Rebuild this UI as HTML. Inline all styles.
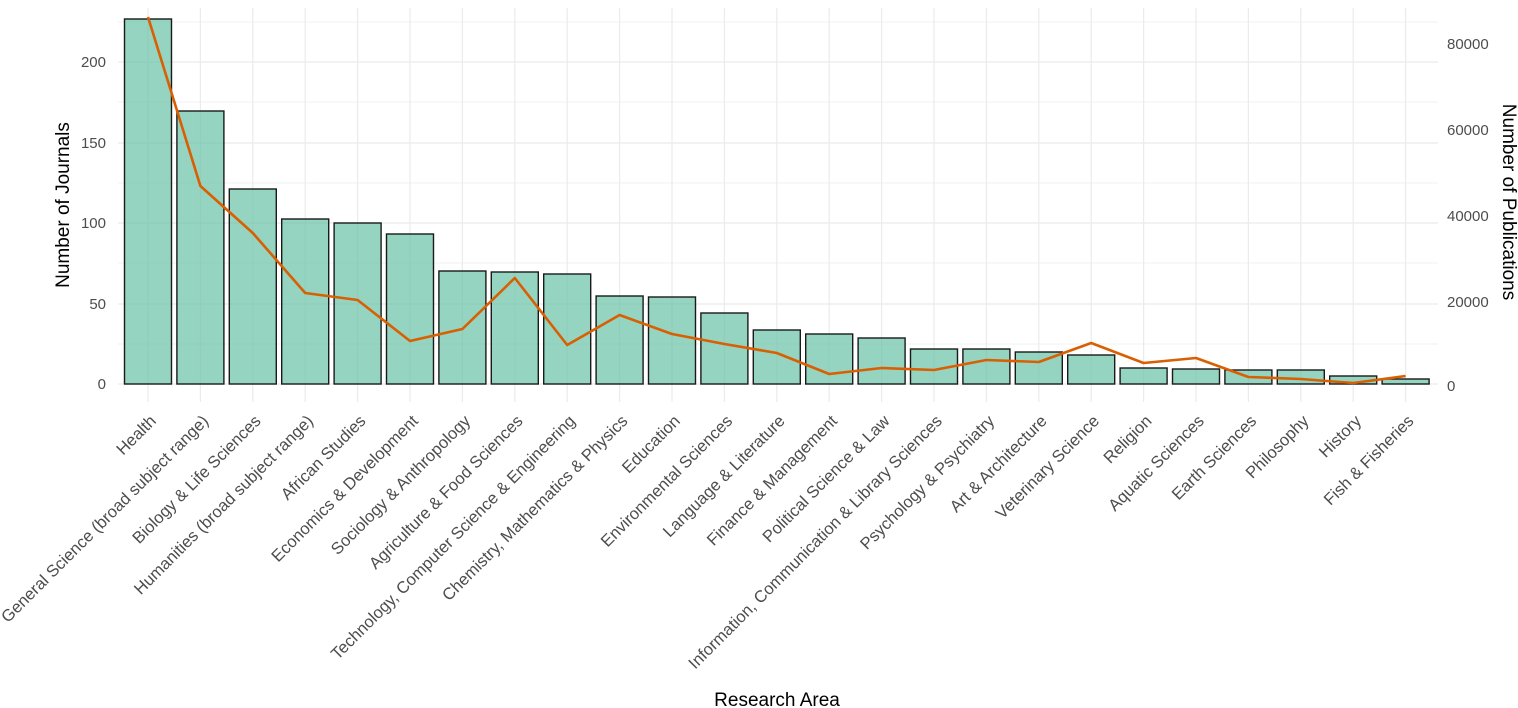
<!DOCTYPE html>
<html><head><meta charset="utf-8"><style>body{margin:0;background:#fff}svg{display:block;font-family:"Liberation Sans",Arial,sans-serif}</style></head><body>
<svg width="1518" height="708" viewBox="0 0 1518 708">
<g id="g"></g>
</svg>
<script>
const names=["Health","General Science (broad subject range)","Biology & Life Sciences","Humanities (broad subject range)","African Studies","Economics & Development","Sociology & Anthropology","Agriculture & Food Sciences","Technology, Computer Science & Engineering","Chemistry, Mathematics & Physics","Education","Environmental Sciences","Language & Literature","Finance & Management","Political Science & Law","Information, Communication & Library Sciences","Psychology & Psychiatry","Art & Architecture","Veterinary Science","Religion","Aquatic Sciences","Earth Sciences","Philosophy","History","Fish & Fisheries"];
const tops=[19,111,189,219,223,234,271,272,274,296,297,313,330,334,338,349,349,352,355,368,369,370,370,376,379];
const ln=[17,186,233,293,300,341,329,278,345,315,334,344,353,374,368,370,360,362,343,363,358,377,379,383,376];
const X0=118,X1=1438,Y0=8,Y1=402,base=384;
const cx=i=>148+i*52.4;
let s="";
[344,263,183,102,22].forEach(y=>s+=`<line x1="${X0}" x2="${X1}" y1="${y}" y2="${y}" stroke="#f2f2f2" stroke-width="1"/>`);
[384,304,223,143,62].forEach(y=>s+=`<line x1="${X0}" x2="${X1}" y1="${y}" y2="${y}" stroke="#ebebeb" stroke-width="1.2"/>`);
names.forEach((n,i)=>s+=`<line x1="${cx(i)}" x2="${cx(i)}" y1="${Y0}" y2="${Y1}" stroke="#ebebeb" stroke-width="1.2"/>`);
names.forEach((n,i)=>s+=`<rect x="${cx(i)-23.5}" y="${tops[i]}" width="47" height="${base-tops[i]}" fill="#66c2a5" fill-opacity="0.7" stroke="#1a1a1a" stroke-width="1.4"/>`);
s+=`<polyline fill="none" stroke="#d95f02" stroke-width="2.6" stroke-linejoin="round" points="${ln.map((y,i)=>cx(i)+','+y).join(' ')}"/>`;
[[0,384],[50,304],[100,223],[150,143],[200,62]].forEach(([v,y])=>s+=`<text x="106" y="${y+5}" text-anchor="end" font-size="15" fill="#4d4d4d">${v}</text>`);
[[0,386],[20000,302],[40000,216],[60000,130],[80000,44]].forEach(([v,y])=>s+=`<text x="1447" y="${y+5}" font-size="15" fill="#4d4d4d">${v}</text>`);
names.forEach((n,i)=>s+=`<text transform="translate(${cx(i)+9},${422}) rotate(-45)" text-anchor="end" font-size="16.6" fill="#4d4d4d">${n.replace(/&/g,'&amp;')}</text>`);
s+=`<text x="777" y="706" text-anchor="middle" font-size="19" fill="#000">Research Area</text>`;
s+=`<text transform="translate(69,205) rotate(-90)" text-anchor="middle" font-size="19" fill="#000">Number of Journals</text>`;
s+=`<text transform="translate(1503,202) rotate(90)" text-anchor="middle" font-size="19" fill="#000">Number of Publications</text>`;
document.getElementById('g').innerHTML=s;
</script>
</body></html>
